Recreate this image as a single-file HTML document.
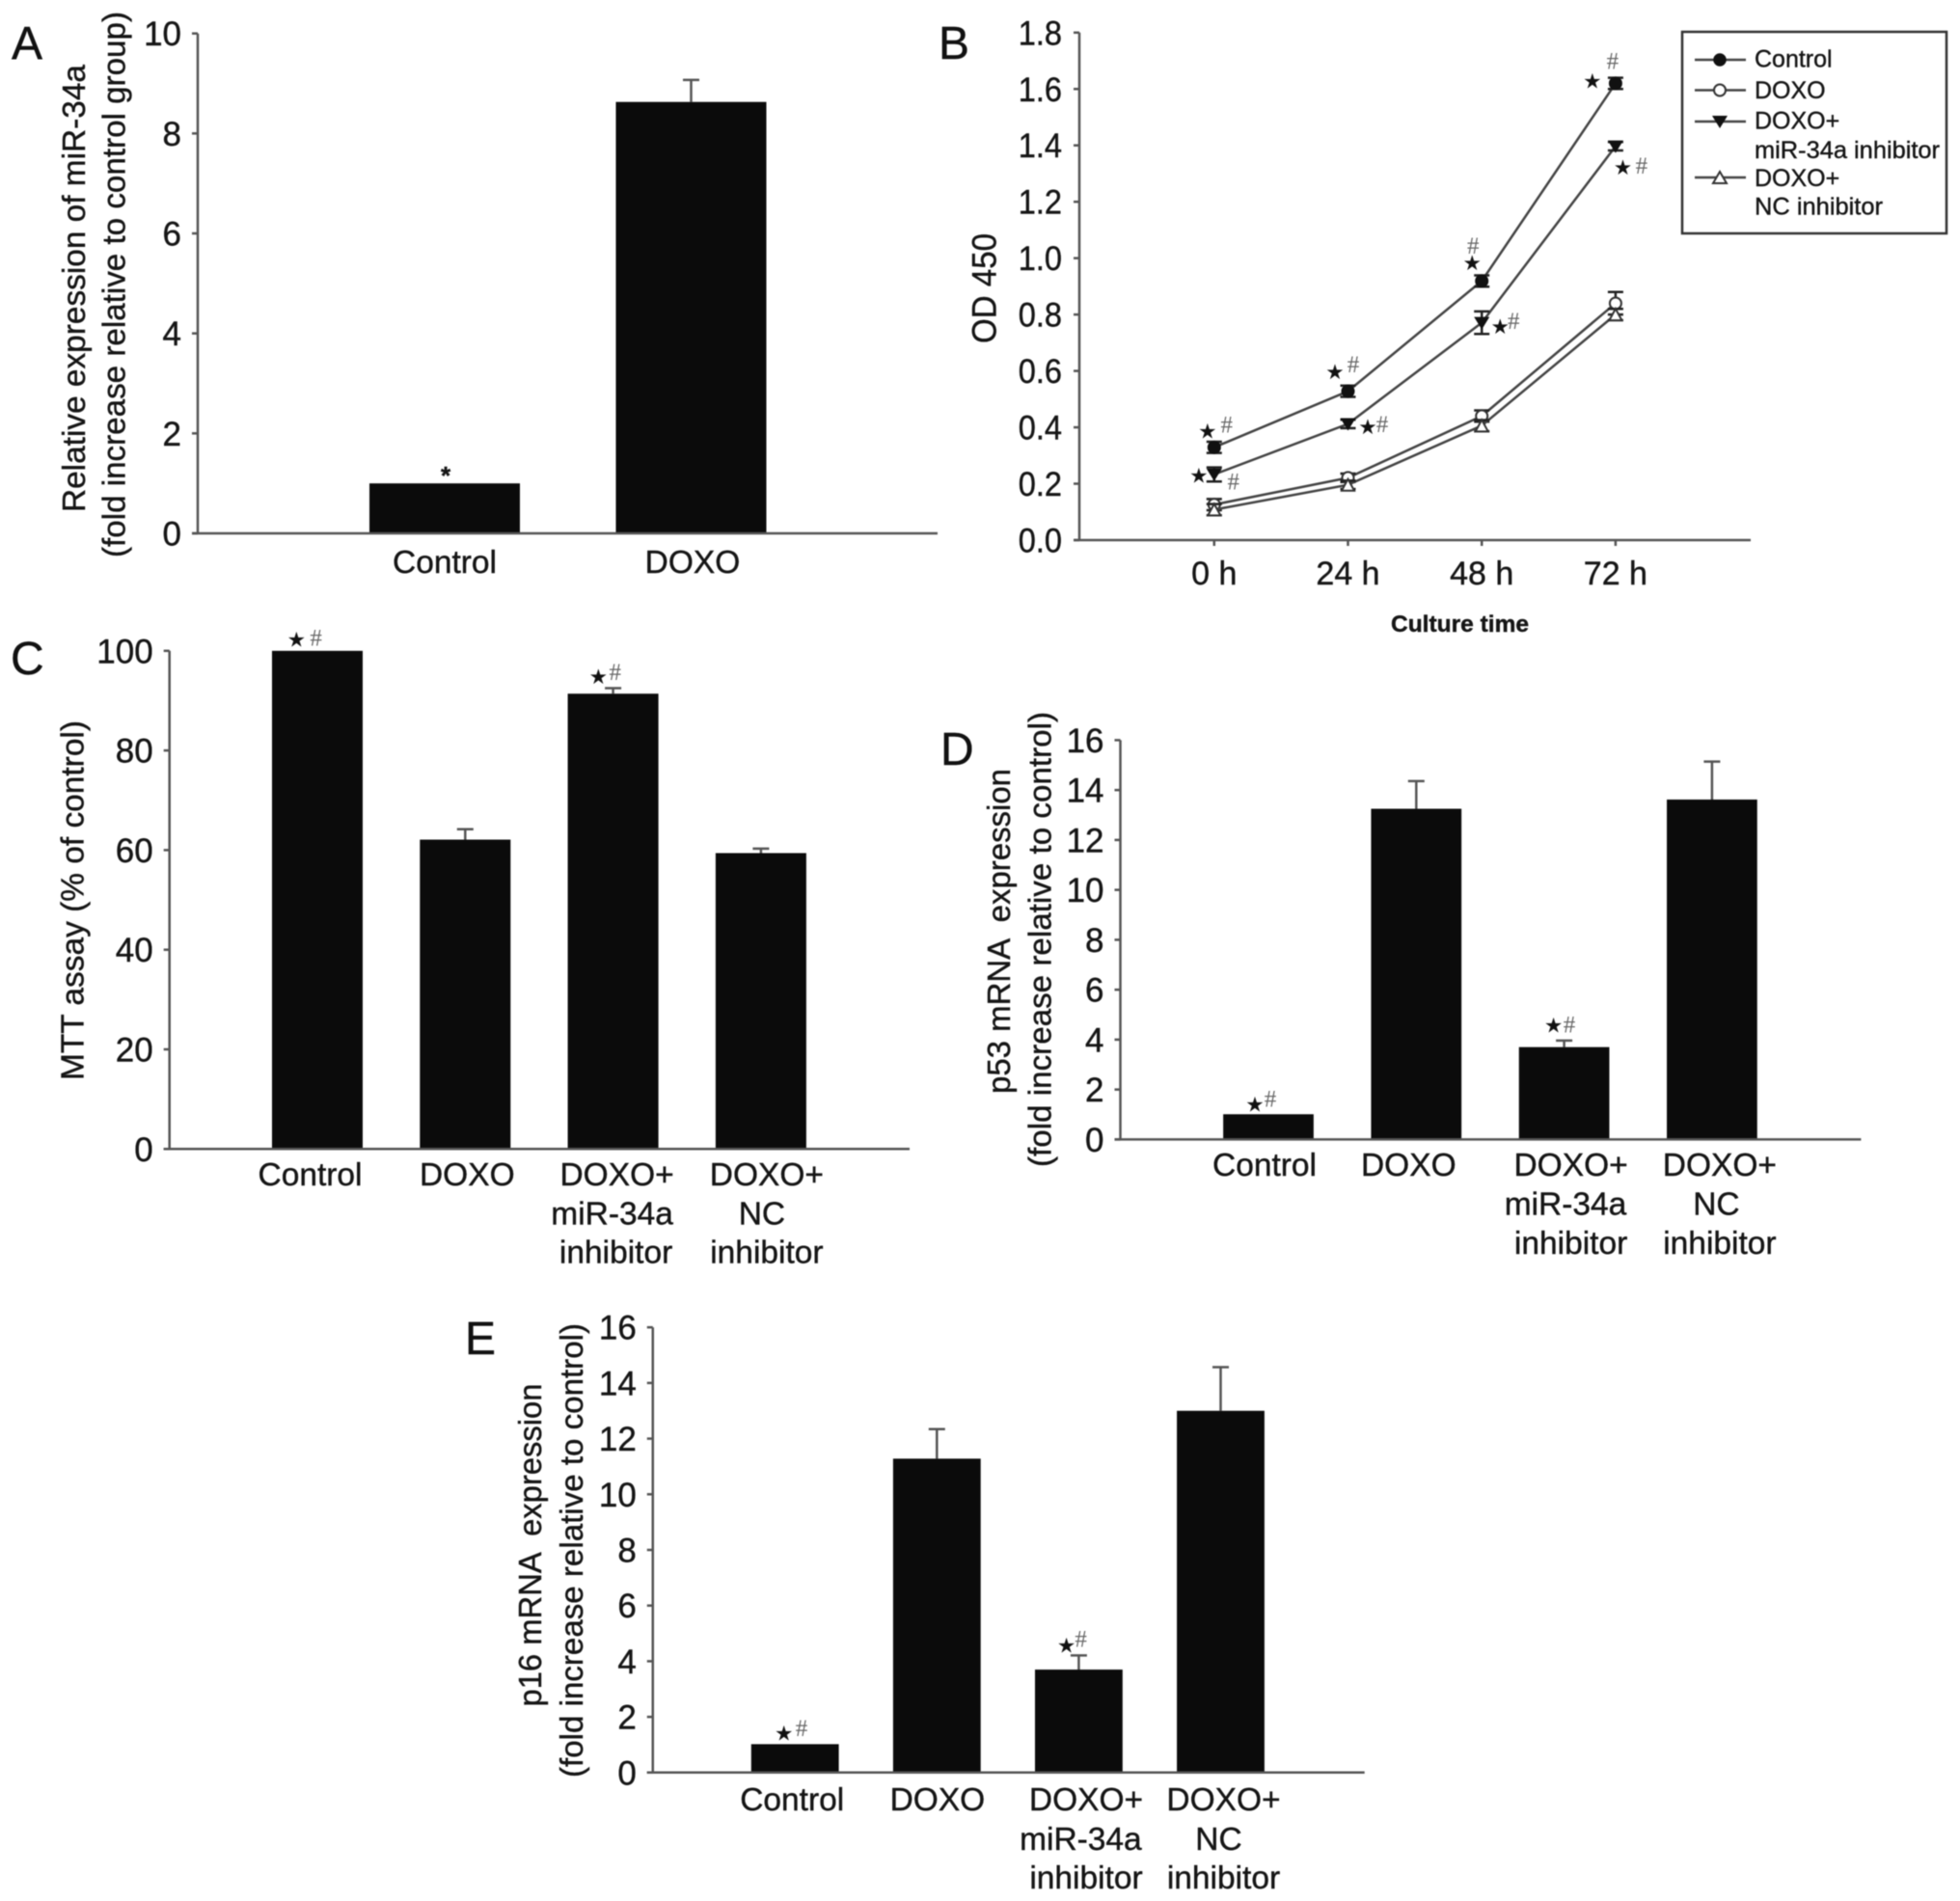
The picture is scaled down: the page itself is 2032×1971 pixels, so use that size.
<!DOCTYPE html>
<html lang="en">
<head>
<meta charset="utf-8">
<title>miR-34a multi-panel figure</title>
<style>
html,body{margin:0;padding:0;background:#fff;}
svg{display:block;filter:blur(0.6px);}
text{font-family:"Liberation Sans",sans-serif;fill:#151515;stroke:#151515;stroke-width:0.4px;}
.letter{font-size:48px;fill:#111;}
.ytitle{font-size:33px;}
.legend-text{font-size:25px;}
</style>
</head>
<body>
<svg id="figure" xmlns="http://www.w3.org/2000/svg" width="2032" height="1971" viewBox="0 0 2032 1971">
  <rect x="0" y="0" width="2032" height="1971" fill="#fff"/>

  <g id="panel-a">
    <text class="letter" x="12" y="61">A</text>
    <text class="ytitle" transform="translate(88,299) rotate(-90)" text-anchor="middle" textLength="464" lengthAdjust="spacingAndGlyphs">Relative expression of miR-34a</text>
    <text class="ytitle" transform="translate(129.5,295) rotate(-90)" text-anchor="middle" textLength="566" lengthAdjust="spacingAndGlyphs">(fold increase relative to control group)</text>
  </g>

  <g id="panel-b">
    <text class="letter" x="973" y="61">B</text>
    <text font-size="35" transform="translate(1032.5,299) rotate(-90)" text-anchor="middle" textLength="114" lengthAdjust="spacingAndGlyphs">OD 450</text>
    <text font-size="24" font-weight="bold" x="1513.5" y="655" text-anchor="middle" textLength="143" lengthAdjust="spacingAndGlyphs">Culture time</text>
    <g>
      <rect x="1744" y="33" width="274" height="209" fill="#fff" stroke="#333" stroke-width="2.5"/>
      <g>
        <line x1="1757" x2="1810" y1="62" y2="62" stroke="#444" stroke-width="2.5"/>
        <circle cx="1783" cy="62" r="6" fill="#111" stroke="#111" stroke-width="1.5"/>
        <text class="legend-text" x="1819" y="69.5">Control</text>
      </g>
      <g>
        <line x1="1757" x2="1810" y1="93.5" y2="93.5" stroke="#444" stroke-width="2.5"/>
        <circle cx="1783" cy="93.5" r="6" fill="#fff" stroke="#333" stroke-width="2"/>
        <text class="legend-text" x="1819" y="102">DOXO</text>
      </g>
      <g>
        <line x1="1757" x2="1810" y1="126" y2="126" stroke="#444" stroke-width="2.5"/>
        <polygon points="1775,120 1791,120 1783,133" fill="#111"/>
        <text class="legend-text" x="1819" y="133.5">DOXO+</text>
        <text class="legend-text" x="1819" y="164" textLength="192" lengthAdjust="spacingAndGlyphs">miR-34a inhibitor</text>
      </g>
      <g>
        <line x1="1757" x2="1810" y1="184" y2="184" stroke="#444" stroke-width="2.5"/>
        <polygon points="1783,178 1776,190 1790,190" fill="#fff" stroke="#333" stroke-width="2"/>
        <text class="legend-text" x="1819" y="193">DOXO+</text>
        <text class="legend-text" x="1819" y="222.5" textLength="133" lengthAdjust="spacingAndGlyphs">NC inhibitor</text>
      </g>
    </g>
  </g>

  <g id="panel-c">
    <text class="letter" x="11" y="699">C</text>
    <text class="ytitle" transform="translate(86.5,933.5) rotate(-90)" text-anchor="middle" textLength="373" lengthAdjust="spacingAndGlyphs">MTT assay (% of control)</text>
  </g>

  <g id="panel-d">
    <text class="letter" x="975" y="793">D</text>
    <text class="ytitle" transform="translate(1047,965.5) rotate(-90)" text-anchor="middle" textLength="337" lengthAdjust="spacingAndGlyphs" xml:space="preserve">p53 mRNA  expression</text>
    <text class="ytitle" transform="translate(1089.5,974) rotate(-90)" text-anchor="middle" textLength="472" lengthAdjust="spacingAndGlyphs">(fold increase relative to control)</text>
  </g>

  <g id="panel-e">
    <text class="letter" x="482" y="1404">E</text>
    <text class="ytitle" transform="translate(561,1602) rotate(-90)" text-anchor="middle" textLength="335" lengthAdjust="spacingAndGlyphs" xml:space="preserve">p16 mRNA  expression</text>
    <text class="ytitle" transform="translate(604,1607.5) rotate(-90)" text-anchor="middle" textLength="471" lengthAdjust="spacingAndGlyphs">(fold increase relative to control)</text>
  </g>
</svg>

<script>
// ---- Panel A data ----
const categoriesA = [['Control'], ['DOXO']];
const valuesA = [1.0, 8.63];
const errorTopsA = [null, 9.07];
const ticksA = ['0', '2', '4', '6', '8', '10'];

// ---- Panel B data ----
const categoriesB = ['0 h', '24 h', '48 h', '72 h'];
const ticksB = ['0.0', '0.2', '0.4', '0.6', '0.8', '1.0', '1.2', '1.4', '1.6', '1.8'];
const controlB = [0.329, 0.528, 0.919, 1.62];
const controlErrB = [0.02, 0.02, 0.02, 0.02];
const doxoB = [0.126, 0.221, 0.44, 0.84];
const doxoErrB = [0.02, 0.015, 0.02, 0.04];
const inhibitorB = [0.233, 0.412, 0.771, 1.397];
const inhibitorErrB = [0.025, 0.015, 0.04, 0.015];
const ncB = [0.108, 0.196, 0.406, 0.80];
const ncErrB = [0.02, 0.015, 0.02, 0.02];

// ---- Panel C data ----
const categoriesC = [['Control'], ['DOXO'], ['DOXO+', 'miR-34a', 'inhibitor'], ['DOXO+', 'NC', 'inhibitor']];
const valuesC = [100, 62.1, 91.4, 59.4];
const errorTopsC = [null, 64.2, 92.5, 60.3];
const ticksC = ['0', '20', '40', '60', '80', '100'];

// ---- Panel D data ----
const categoriesD = [['Control'], ['DOXO'], ['DOXO+', 'miR-34a', 'inhibitor'], ['DOXO+', 'NC', 'inhibitor']];
const valuesD = [1.01, 13.25, 3.7, 13.62];
const errorTopsD = [null, 14.36, 3.96, 15.14];
const ticksD = ['0', '2', '4', '6', '8', '10', '12', '14', '16'];

// ---- Panel E data ----
const categoriesE = [['Control'], ['DOXO'], ['DOXO+', 'miR-34a', 'inhibitor'], ['DOXO+', 'NC', 'inhibitor']];
const valuesE = [1.02, 11.28, 3.7, 13.0];
const errorTopsE = [null, 12.34, 4.21, 14.57];
const ticksE = ['0', '2', '4', '6', '8', '10', '12', '14', '16'];

const SVGNS = 'http://www.w3.org/2000/svg';
const AXIS = '#555';

function shape(parent, tag, attrs, name) {
  const el = document.createElementNS(SVGNS, tag);
  for (const k in attrs) el.setAttribute(k, attrs[k]);
  
  
  parent.appendChild(el);
  return el;
}
function label(parent, str, attrs, name) {
  const el = shape(parent, 'text', attrs, name);
  el.textContent = str;
  return el;
}
function numberLabel(parent, str, rightX, baseY, sx, name) {
  label(parent, str, {
    'font-size': 35,
    'text-anchor': 'end',
    transform: 'translate(' + rightX + ',' + baseY + ') scale(' + sx + ',1)'
  }, name);
}
function star(parent, cx, cy) {
  const el = label(parent, '\u2605', {
    x: cx, y: cy + 7, 'font-size': 20, 'text-anchor': 'middle',
    style: 'font-family:"DejaVu Sans",sans-serif;fill:#111'
  }, 'significance-star');
  return el;
}
function hash(parent, cx, cy) {
  const el = label(parent, '#', {
    x: cx, y: cy + 8.5, 'font-size': 25, 'text-anchor': 'middle',
    style: 'font-family:"Liberation Serif",serif;fill:#666;stroke:none'
  }, 'significance-hash');
  return el;
}

function barPanel(id, o) {
  const g = document.getElementById(id);
  const yScale = function (v) { return o.y0 + (o.yTop - o.y0) * v / o.yMax; };
  const xScale = function (i) { return o.firstCenter + i * o.spacing; };

  o.values.forEach(function (v, i) {
    const cx = xScale(i);
    if (o.errorTops[i] !== null) {
      shape(g, 'line', { x1: cx, x2: cx, y1: yScale(v), y2: yScale(o.errorTops[i]), stroke: AXIS, 'stroke-width': 2.5 }, 'error-bar');
      shape(g, 'line', { x1: cx - 8.5, x2: cx + 8.5, y1: yScale(o.errorTops[i]), y2: yScale(o.errorTops[i]), stroke: AXIS, 'stroke-width': 2.5 }, 'error-bar-cap');
    }
    shape(g, 'rect', { x: cx - o.barWidth / 2, y: yScale(v), width: o.barWidth, height: o.y0 - yScale(v), fill: '#0b0b0b' }, 'bar');
    o.categories[i].forEach(function (line, j) {
      label(g, line, {
        x: cx + o.labelShift[i][j],
        y: o.labelBase[j],
        'font-size': 33.5,
        'text-anchor': 'middle'
      }, 'x-axis-label');
    });
  });

  shape(g, 'line', { x1: o.axisX, x2: o.axisX, y1: o.yTop, y2: o.y0, stroke: AXIS, 'stroke-width': 2.5 }, 'y-axis-line');
  shape(g, 'line', { x1: o.axisX - 6, x2: o.baseEnd, y1: o.y0, y2: o.y0, stroke: AXIS, 'stroke-width': 2.5 }, 'x-axis-line');
  o.ticks.forEach(function (t) {
    const y = yScale(Number(t));
    shape(g, 'line', { x1: o.axisX - 6, x2: o.axisX, y1: y, y2: y, stroke: AXIS, 'stroke-width': 2.5 }, 'y-axis-tick');
    numberLabel(g, t, o.axisX - 17, y + 12.5, 1, 'y-axis-tick-label');
  });
  return { g: g, x: xScale, y: yScale };
}

// Panel A
const panelA = barPanel('panel-a', {
  categories: categoriesA, values: valuesA, errorTops: errorTopsA, ticks: ticksA,
  yMax: 10, y0: 553, yTop: 34.7, axisX: 205, baseEnd: 972,
  firstCenter: 461, spacing: 255.5, barWidth: 156,
  labelBase: [594], labelShift: [[0], [1.5]]
});
label(panelA.g, '*', {
  x: panelA.x(0) + 1, y: panelA.y(valuesA[0]) + 1, 'font-size': 26, 'font-weight': 'bold', 'text-anchor': 'middle'
}, 'significance-star');

// Panel C
const panelC = barPanel('panel-c', {
  categories: categoriesC, values: valuesC, errorTops: errorTopsC, ticks: ticksC,
  yMax: 100, y0: 1191.3, yTop: 674.8, axisX: 175.7, baseEnd: 943,
  firstCenter: 329, spacing: 153.3, barWidth: 94,
  labelBase: [1229, 1269.5, 1309.6],
  labelShift: [[-7.5], [2], [4, -1, 3], [6, 1, 6]]
});
star(panelC.g, panelC.x(0) - 21.6, panelC.y(valuesC[0]) - 11.8);
hash(panelC.g, panelC.x(0) - 1.4, panelC.y(valuesC[0]) - 13.8);
star(panelC.g, panelC.x(2) - 15.3, panelC.y(valuesC[2]) - 17.6);
hash(panelC.g, panelC.x(2) + 2.2, panelC.y(valuesC[2]) - 22.5);

// Panel D
const panelD = barPanel('panel-d', {
  categories: categoriesD, values: valuesD, errorTops: errorTopsD, ticks: ticksD,
  yMax: 16, y0: 1181.4, yTop: 767.4, axisX: 1161.5, baseEnd: 1929.4,
  firstCenter: 1315, spacing: 153.3, barWidth: 93.7,
  labelBase: [1219, 1259.7, 1300],
  labelShift: [[-4], [-8], [7, 1.4, 7], [8, 4.5, 8]]
});
star(panelD.g, panelD.x(0) - 14, panelD.y(valuesD[0]) - 10.3);
hash(panelD.g, panelD.x(0) + 2, panelD.y(valuesD[0]) - 16.3);
star(panelD.g, panelD.x(2) - 11, panelD.y(valuesD[2]) - 22.7);
hash(panelD.g, panelD.x(2) + 5.4, panelD.y(valuesD[2]) - 23.7);

// Panel E
const panelE = barPanel('panel-e', {
  categories: categoriesE, values: valuesE, errorTops: errorTopsE, ticks: ticksE,
  yMax: 16, y0: 1837.8, yTop: 1376.2, axisX: 676.8, baseEnd: 1414.7,
  firstCenter: 824.2, spacing: 147.1, barWidth: 90.8,
  labelBase: [1877, 1918, 1958],
  labelShift: [[-3], [0.6], [7.6, 2, 7.6], [3, -2, 3]]
});
star(panelE.g, panelE.x(0) - 11.5, panelE.y(valuesE[0]) - 11.4);
hash(panelE.g, panelE.x(0) + 6.8, panelE.y(valuesE[0]) - 16.9);
star(panelE.g, panelE.x(2) - 12.8, panelE.y(valuesE[2]) - 25);
hash(panelE.g, panelE.x(2) + 2.2, panelE.y(valuesE[2]) - 32);

// Panel B (line chart)
(function () {
  const g = document.getElementById('panel-b');
  const y0 = 560, yTop = 33.8, yMax = 1.8, axisX = 1119;
  const yScale = function (v) { return y0 + (yTop - y0) * v / yMax; };
  const xScale = function (i) { return 1258.8 + i * 138.7; };

  function series(name, vals, errs, draw) {
    const pts = vals.map(function (v, i) { return xScale(i) + ',' + yScale(v); }).join(' ');
    shape(g, 'polyline', { points: pts, fill: 'none', stroke: '#444', 'stroke-width': 2.5 }, 'line-' + name);
    vals.forEach(function (v, i) {
      const x = xScale(i), hi = yScale(v + errs[i]), lo = yScale(v - errs[i]);
      shape(g, 'line', { x1: x, x2: x, y1: hi, y2: lo, stroke: '#222', 'stroke-width': 2.5 }, 'error-bar-' + name);
      shape(g, 'line', { x1: x - 8, x2: x + 8, y1: hi, y2: hi, stroke: '#222', 'stroke-width': 2.5 }, 'error-bar-cap-' + name);
      shape(g, 'line', { x1: x - 8, x2: x + 8, y1: lo, y2: lo, stroke: '#222', 'stroke-width': 2.5 }, 'error-bar-cap-' + name);
      draw(x, yScale(v), name);
    });
  }
  function filledCircle(x, y, n) { shape(g, 'circle', { cx: x, cy: y, r: 7, fill: '#111' }, 'point-' + n); }
  function openCircle(x, y, n) { shape(g, 'circle', { cx: x, cy: y, r: 6, fill: '#fff', stroke: '#333', 'stroke-width': 2 }, 'point-' + n); }
  function downTriangle(x, y, n) { shape(g, 'polygon', { points: (x - 8) + ',' + (y - 6) + ' ' + (x + 8) + ',' + (y - 6) + ' ' + x + ',' + (y + 7), fill: '#111' }, 'point-' + n); }
  function upTriangle(x, y, n) { shape(g, 'polygon', { points: x + ',' + (y - 6) + ' ' + (x - 6.5) + ',' + (y + 6) + ' ' + (x + 6.5) + ',' + (y + 6), fill: '#fff', stroke: '#333', 'stroke-width': 2 }, 'point-' + n); }

  series('doxo', doxoB, doxoErrB, openCircle);
  series('nc-inhibitor', ncB, ncErrB, upTriangle);
  series('mir-34a-inhibitor', inhibitorB, inhibitorErrB, downTriangle);
  series('control', controlB, controlErrB, filledCircle);

  shape(g, 'line', { x1: axisX, x2: axisX, y1: yTop, y2: y0, stroke: AXIS, 'stroke-width': 2.5 }, 'y-axis-line');
  shape(g, 'line', { x1: axisX - 6, x2: 1815, y1: y0, y2: y0, stroke: AXIS, 'stroke-width': 2.5 }, 'x-axis-line');
  ticksB.forEach(function (t) {
    const y = yScale(Number(t));
    shape(g, 'line', { x1: axisX - 6, x2: axisX, y1: y, y2: y, stroke: AXIS, 'stroke-width': 2.5 }, 'y-axis-tick');
    numberLabel(g, t, axisX - 18, y + 12.5, 0.93, 'y-axis-tick-label');
  });
  categoriesB.forEach(function (c, i) {
    const x = xScale(i);
    shape(g, 'line', { x1: x, x2: x, y1: y0, y2: y0 + 6, stroke: AXIS, 'stroke-width': 2.5 }, 'x-axis-tick');
    label(g, c, { x: x, y: 606, 'font-size': 34, 'text-anchor': 'middle' }, 'x-axis-label');
  });

  function note(i, v, sx, sy, hx, hy) {
    star(g, xScale(i) + sx, yScale(v) + sy);
    hash(g, xScale(i) + hx, yScale(v) + hy);
  }
  note(0, controlB[0], -7, -17, 13, -24);
  note(0, inhibitorB[0], -16, 1, 20, 7);
  note(1, controlB[1], -13.5, -20, 5.5, -28);
  note(1, inhibitorB[1], 20.5, 3, 35.5, 0);
  note(2, controlB[2], -10, -19, -9, -37);
  note(2, inhibitorB[2], 19, 4, 33, -2);
  note(3, controlB[3], -24, -2.5, -3, -23.5);
  note(3, inhibitorB[3], 7.6, 22, 27, 20);
})();
</script>
</body>
</html>
